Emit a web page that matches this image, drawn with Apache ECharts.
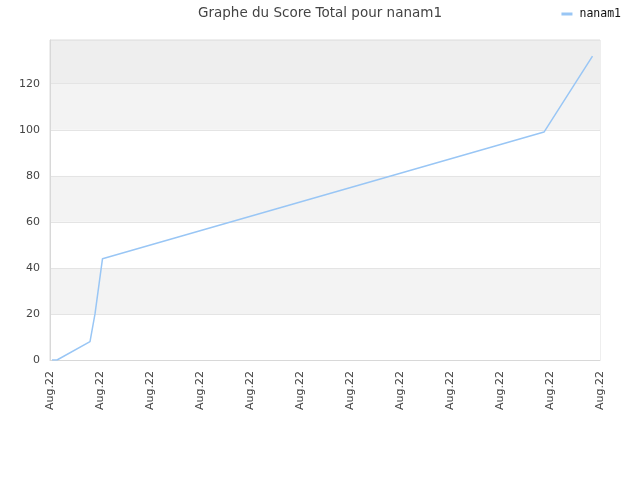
<!DOCTYPE html>
<html>
<head>
<meta charset="utf-8">
<script src="https://cdn.jsdelivr.net/npm/echarts@6/dist/echarts.min.js"></script>
<style>html,body{margin:0;padding:0;background:#fff}#c{width:640px;height:480px}</style>
</head>
<body>
<div id="c"></div>
<script>
// x positions on the time axis (in tick units), and score values
var timePos = [0.04, 0.14, 0.8, 0.9, 1.05, 9.88, 10.85];
var scores = [0, 0, 8, 20, 44, 99, 132];
var tickLabel = 'Aug.22';
var seriesName = 'nanam1';
var titleText = 'Graphe du Score Total pour nanam1';

var data = timePos.map(function (x, i) { return [x, scores[i]]; });

var chart = echarts.init(document.getElementById('c'), null, {renderer: 'canvas'});
chart.setOption({
  animation: false,
  backgroundColor: '#ffffff',
  title: {
    text: titleText,
    left: 'center',
    top: 1,
    textStyle: {fontFamily: 'DejaVu Sans', fontSize: 13.5, fontWeight: 'normal', color: '#444'}
  },
  legend: {
    right: 14,
    top: 3,
    itemWidth: 11,
    itemHeight: 3,
    itemGap: 8,
    icon: 'rect',
    textStyle: {fontFamily: 'DejaVu Sans Mono', fontSize: 11.5, color: '#111', padding: [0, 0, 0, 2]},
    data: [seriesName]
  },
  grid: {
    left: 50, right: 40, top: 40, bottom: 120,
    show: true, borderColor: '#dddddd', borderWidth: 1, backgroundColor: 'transparent'
  },
  xAxis: {
    type: 'value',
    min: 0, max: 11, interval: 1,
    axisLine: {show: true, lineStyle: {color: '#d8d8d8'}},
    axisTick: {show: false},
    splitLine: {show: false},
    axisLabel: {
      rotate: 90,
      margin: 11,
      fontFamily: 'DejaVu Sans', fontSize: 11, color: '#444',
      formatter: function () { return tickLabel; }
    }
  },
  yAxis: {
    type: 'value',
    min: 0, max: 139, interval: 20,
    axisLine: {show: true, lineStyle: {color: '#d8d8d8'}},
    axisTick: {show: false},
    splitLine: {show: true, lineStyle: {color: '#e4e4e4'}},
    splitArea: {show: true, areaStyle: {color: ['#ffffff', '#f3f3f3', '#ffffff', '#f3f3f3', '#ffffff', '#f3f3f3', '#eeeeee']}},
    axisLabel: {fontFamily: 'DejaVu Sans', fontSize: 11, color: '#444', margin: 10,
      showMaxLabel: false}
  },
  series: [{
    name: seriesName,
    type: 'line',
    data: data,
    showSymbol: false,
    symbol: 'none',
    lineStyle: {color: '#99c6f5', width: 1.5},
    itemStyle: {color: '#99c6f5'}
  }]
});
</script>
</body>
</html>
